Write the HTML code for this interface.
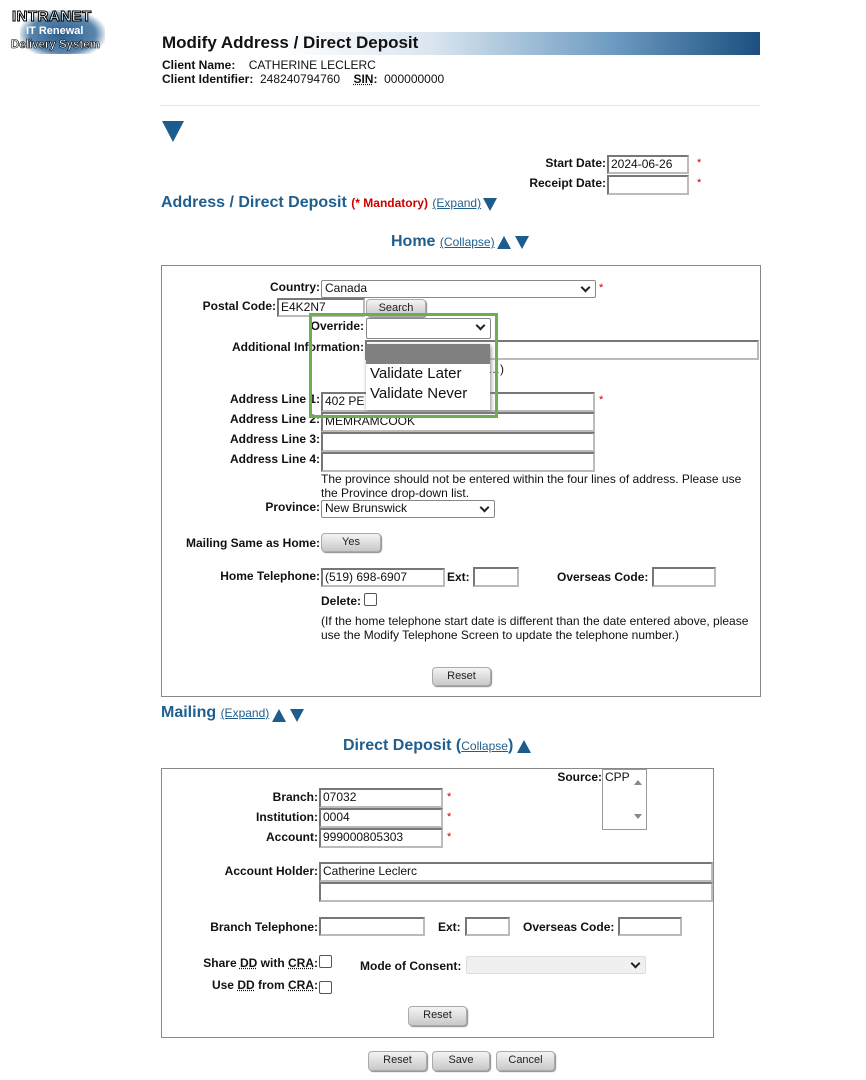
<!DOCTYPE html>
<html><head><meta charset="utf-8"><style>
body{margin:0;width:866px;height:1080px;background:#fff;position:relative;font-family:"Liberation Sans",Arial,sans-serif;font-size:12px;color:#111;overflow:hidden}
.a{position:absolute;white-space:nowrap}
.l{position:absolute;white-space:nowrap;font-weight:bold;text-align:right;left:0}
.i{position:absolute;box-sizing:border-box;border:2px solid #777;border-right-color:#bbb;border-bottom-color:#bbb;background:#fff;font-size:12px;padding-left:2px;line-height:14px}
.s{position:absolute;box-sizing:border-box;border:1px solid #888;border-radius:2px;background:#fff;font-size:12px;padding-left:3px;line-height:15px}
.s:after{content:"";position:absolute;right:6px;top:3px;width:5px;height:5px;border-right:2px solid #222;border-bottom:2px solid #222;transform:rotate(45deg)}
.b{position:absolute;box-sizing:border-box;background:linear-gradient(#f4f4f4,#c8c8c8);border:1px solid #aaa;border-radius:4px;box-shadow:1px 1px 1px #888;text-align:center;font-size:11px;line-height:16px;color:#222}
.h{position:absolute;white-space:nowrap;font-weight:bold;font-size:16px;color:#1f5f8f}
.lk{font-size:12px;font-weight:normal;color:#1f5f8f;text-decoration:underline}
.st{position:absolute;color:#c00;font-size:11px}
.td{position:absolute;width:0;height:0;border-left:7px solid transparent;border-right:7px solid transparent;border-top:13px solid #1d5d8d}
.tu{position:absolute;width:0;height:0;border-left:7px solid transparent;border-right:7px solid transparent;border-bottom:13px solid #1d5d8d}
.cb{position:absolute;width:11px;height:11px;border:1px solid #555;border-radius:2px;background:#fff}
.box{position:absolute;border:1px solid #888}
</style></head><body>
<!-- logo -->
<div class="a" style="left:20px;top:10px;width:85px;height:44px;background:radial-gradient(ellipse at 50% 55%,#2d5f8c 0%,#5a86ad 55%,rgba(255,255,255,0) 75%)"></div>
<div class="a" style="left:12px;top:8px;font-weight:900;font-size:15px;color:#fff;-webkit-text-stroke:1px #000;letter-spacing:0.5px">INTRANET</div>
<div class="a" style="left:26px;top:25px;font-weight:bold;font-size:11px;color:#fff">IT Renewal</div>
<div class="a" style="left:11px;top:39px;font-weight:bold;font-size:11.5px;color:#fff;-webkit-text-stroke:0.6px #000">Delivery System</div>
<!-- title -->
<div class="a" style="left:160px;top:32px;width:600px;height:23px;background:linear-gradient(90deg,#fff 0%,#fff 20%,#dbe6f0 45%,#6f9cc2 75%,#1b4f7f 100%)"></div>
<div class="a" style="left:162px;top:33px;font-size:17px;font-weight:bold;color:#111">Modify Address / Direct Deposit</div>
<div class="a" style="left:162px;top:58px"><b>Client Name:</b>&nbsp;&nbsp;&nbsp; CATHERINE LECLERC</div>
<div class="a" style="left:162px;top:72px"><b>Client Identifier:</b>&nbsp; 248240794760&nbsp;&nbsp;&nbsp; <b style="text-decoration:underline dotted">SIN</b><b>:</b>&nbsp; 000000000</div>
<div class="a" style="left:160px;top:105px;width:600px;height:1px;background:#e4e4e4"></div>
<div class="td" style="left:162px;top:121px;border-left-width:11px;border-right-width:11px;border-top-width:21px"></div>
<!-- dates -->
<div class="l" style="width:606px;top:156px">Start Date:</div>
<div class="i" style="left:607px;top:155px;width:82px;height:19px">2024-06-26</div>
<div class="st" style="left:697px;top:157px">*</div>
<div class="l" style="width:606px;top:176px">Receipt Date:</div>
<div class="i" style="left:607px;top:175px;width:82px;height:20px"></div>
<div class="st" style="left:697px;top:177px">*</div>
<div class="h" style="left:161px;top:194px">Address / Direct Deposit <span style="color:#c00;font-size:12px">(* Mandatory)</span> <span class="lk">(Expand)</span></div>
<div class="td" style="left:483px;top:198px"></div>
<div class="h" style="left:391px;top:233px">Home <span class="lk">(Collapse)</span></div>
<div class="tu" style="left:497px;top:236px"></div>
<div class="td" style="left:515px;top:236px"></div>
<!-- box 1 -->
<div class="box" style="left:161px;top:265px;width:598px;height:430px"></div>
<div class="l" style="width:320px;top:280px">Country:</div>
<div class="s" style="left:321px;top:280px;width:275px;height:18px">Canada</div>
<div class="st" style="left:599px;top:282px">*</div>
<div class="l" style="width:276px;top:299px">Postal Code:</div>
<div class="i" style="left:277px;top:298px;width:88px;height:19px">E4K2N7</div>
<div class="b" style="left:366px;top:299px;width:60px;height:18px">Search</div>
<div class="l" style="width:364px;top:319px">Override:</div>
<div class="s" style="left:366px;top:318px;width:125px;height:21px"></div>
<div class="l" style="width:364px;top:340px">Additional Information:</div>
<div class="i" style="left:365px;top:340px;width:394px;height:20px"></div>
<div class="a" style="left:488px;top:362px">…)</div>
<div class="l" style="width:320px;top:392px">Address Line 1:</div>
<div class="i" style="left:321px;top:392px;width:274px;height:20px">402 PE</div>
<div class="st" style="left:599px;top:394px">*</div>
<div class="l" style="width:320px;top:412px">Address Line 2:</div>
<div class="i" style="left:321px;top:412px;width:274px;height:20px">MEMRAMCOOK</div>
<div class="l" style="width:320px;top:432px">Address Line 3:</div>
<div class="i" style="left:321px;top:432px;width:274px;height:20px"></div>
<div class="l" style="width:320px;top:452px">Address Line 4:</div>
<div class="i" style="left:321px;top:452px;width:274px;height:20px"></div>
<div class="a" style="left:366px;top:344px;width:124px;height:66px;background:#fff;box-shadow:1px 2px 4px #888;z-index:5"></div>
<div class="a" style="left:366px;top:344px;width:124px;height:20px;background:#808080;z-index:6"></div>
<div class="a" style="left:370px;top:365px;font-size:15px;z-index:6">Validate Later</div>
<div class="a" style="left:370px;top:385px;font-size:15px;z-index:6">Validate Never</div>
<div class="a" style="left:309px;top:313px;width:183px;height:99px;border:3px solid #6ab04c;z-index:7"></div>
<div class="a" style="left:321px;top:472px;line-height:14px">The province should not be entered within the four lines of address. Please use<br>the Province drop-down list.</div>
<div class="l" style="width:320px;top:500px">Province:</div>
<div class="s" style="left:321px;top:500px;width:174px;height:18px">New Brunswick</div>
<div class="l" style="width:320px;top:536px">Mailing Same as Home:</div>
<div class="b" style="left:321px;top:533px;width:60px;height:19px">Yes</div>
<div class="l" style="width:320px;top:569px">Home Telephone:</div>
<div class="i" style="left:321px;top:568px;width:124px;height:19px">(519) 698-6907</div>
<div class="a" style="left:447px;top:570px;font-weight:bold">Ext:</div>
<div class="i" style="left:473px;top:567px;width:46px;height:20px"></div>
<div class="a" style="left:557px;top:570px;font-weight:bold">Overseas Code:</div>
<div class="i" style="left:652px;top:567px;width:64px;height:20px"></div>
<div class="a" style="left:321px;top:594px;font-weight:bold">Delete:</div>
<div class="cb" style="left:364px;top:593px"></div>
<div class="a" style="left:321px;top:614px;line-height:14px">(If the home telephone start date is different than the date entered above, please<br>use the Modify Telephone Screen to update the telephone number.)</div>
<div class="b" style="left:432px;top:667px;width:59px;height:19px">Reset</div>
<!-- mailing -->
<div class="h" style="left:161px;top:704px">Mailing <span class="lk">(Expand)</span></div>
<div class="tu" style="left:272px;top:709px"></div>
<div class="td" style="left:290px;top:709px"></div>
<div class="h" style="left:343px;top:737px">Direct Deposit (<span class="lk">Collapse</span>)</div>
<div class="tu" style="left:517px;top:740px"></div>
<!-- box 2 -->
<div class="box" style="left:161px;top:768px;width:551px;height:268px"></div>
<div class="l" style="width:602px;top:770px">Source:</div>
<div class="a" style="left:602px;top:769px;width:45px;height:61px;box-sizing:border-box;border:1px solid #999;padding-left:2px;font-size:12px;line-height:14px">CPP<div style="position:absolute;right:4px;top:10px;border-left:4px solid transparent;border-right:4px solid transparent;border-bottom:5px solid #888"></div><div style="position:absolute;right:4px;top:44px;border-left:4px solid transparent;border-right:4px solid transparent;border-top:5px solid #888"></div></div>
<div class="l" style="width:318px;top:790px">Branch:</div>
<div class="i" style="left:319px;top:788px;width:124px;height:20px">07032</div>
<div class="st" style="left:447px;top:791px">*</div>
<div class="l" style="width:318px;top:810px">Institution:</div>
<div class="i" style="left:319px;top:808px;width:124px;height:20px">0004</div>
<div class="st" style="left:447px;top:811px">*</div>
<div class="l" style="width:318px;top:830px">Account:</div>
<div class="i" style="left:319px;top:828px;width:124px;height:20px">999000805303</div>
<div class="st" style="left:447px;top:831px">*</div>
<div class="l" style="width:318px;top:864px">Account Holder:</div>
<div class="i" style="left:319px;top:862px;width:394px;height:20px">Catherine Leclerc</div>
<div class="i" style="left:319px;top:882px;width:394px;height:20px"></div>
<div class="l" style="width:318px;top:920px">Branch Telephone:</div>
<div class="i" style="left:319px;top:917px;width:106px;height:19px"></div>
<div class="a" style="left:438px;top:920px;font-weight:bold">Ext:</div>
<div class="i" style="left:465px;top:917px;width:45px;height:19px"></div>
<div class="a" style="left:523px;top:920px;font-weight:bold">Overseas Code:</div>
<div class="i" style="left:618px;top:917px;width:64px;height:19px"></div>
<div class="l" style="width:318px;top:956px">Share <u style="text-decoration:underline dotted">DD</u> with <u style="text-decoration:underline dotted">CRA</u>:</div>
<div class="cb" style="left:319px;top:955px"></div>
<div class="a" style="left:360px;top:959px;font-weight:bold">Mode of Consent:</div>
<div class="s" style="left:466px;top:956px;width:180px;height:18px;background:#f0f0f0;border-color:#ddd"></div>
<div class="l" style="width:318px;top:978px">Use <u style="text-decoration:underline dotted">DD</u> from <u style="text-decoration:underline dotted">CRA</u>:</div>
<div class="cb" style="left:319px;top:981px"></div>
<div class="b" style="left:408px;top:1006px;width:59px;height:20px">Reset</div>
<div class="b" style="left:368px;top:1051px;width:59px;height:20px">Reset</div>
<div class="b" style="left:432px;top:1051px;width:58px;height:20px">Save</div>
<div class="b" style="left:496px;top:1051px;width:59px;height:20px">Cancel</div>
</body></html>
